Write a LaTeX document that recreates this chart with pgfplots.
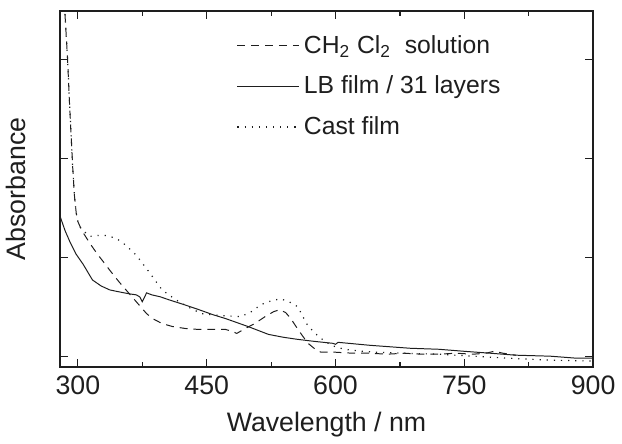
\documentclass[border=0pt]{standalone}
\usepackage{fontspec}
\setmainfont{Liberation Sans}
\usepackage{pgfplots}
\pgfplotsset{compat=1.18}
\definecolor{ink}{RGB}{30,30,30}

\begin{document}
\begin{tikzpicture}
\begin{axis}[
  scale only axis,
  width=269.5pt, height=180pt,
  xmin=279, xmax=900,
  ymin=-0.11, ymax=3.49,
  xtick={300,450,600,750,900},
  minor xtick={375,525,675,825},
  ytick={0,1,2,3},
  yticklabels={},
  tick align=inside,
  major tick length=4pt,
  minor tick length=2.5pt,
  axis line style={ink, line width=0.8pt},
  every tick/.style={ink, line width=0.6pt},
  /pgf/number format/assume math mode=true,
  ticklabel style={font=\fontsize{13.5}{16}\selectfont, text=ink},
  xticklabel style={yshift=-1pt},
  xlabel={Wavelength / nm},
  ylabel={Absorbance},
  label style={font=\fontsize{13.5}{16}\selectfont, text=ink},
  xlabel style={yshift=-2pt},
  ylabel style={at={(axis description cs:-0.05,0.5)}, anchor=south},
  legend style={draw=none, fill=none, at={(axis description cs:0.32,0.955)}, anchor=north west,
    font=\fontsize{12.5}{15}\selectfont, text=ink, row sep=6pt},
  legend cell align=left,
  legend image code/.code={\draw[#1] (0cm,0cm) -- (1.1cm,0cm);},
  clip=true,
]
% CH2Cl2 solution
\addplot[ink, line width=0.5pt, dash pattern=on 4pt off 3pt] coordinates {
(284,3.6)(286,3.3)(288,3.0)(290,2.6)(292,2.25)(294,1.9)(296,1.62)(298,1.45)
(300,1.36)(303,1.30)(306,1.25)(314,1.14)(322,1.04)(330,0.95)(337,0.87)(348,0.75)
(360,0.63)(368,0.55)(374,0.49)(380,0.43)(387,0.38)(398,0.33)(410,0.30)(425,0.28)
(441,0.27)(457,0.27)(472,0.27)(480,0.25)(485,0.23)(495,0.28)(506,0.33)(518,0.40)
(528,0.45)(535,0.47)(542,0.44)(548,0.38)(554,0.30)(562,0.20)(568,0.13)(575,0.08)
(583,0.04)(600,0.04)(620,0.03)(640,0.03)(660,0.02)(680,0.03)(700,0.02)(720,0.02)
(740,0.03)(760,0.02)(775,0.03)(785,0.05)(795,0.03)(810,0.01)
};
\addlegendentry{CH\textsubscript{2} Cl\textsubscript{2}\ \ solution}

% LB film
\addplot[ink, line width=0.5pt] coordinates {
(279,1.42)(285,1.27)(291,1.15)(298,1.03)(306,0.93)(317,0.77)(327,0.71)(337,0.67)
(348,0.65)(360,0.63)(368,0.62)(372,0.60)(375,0.55)(380,0.64)(386,0.62)(396,0.60)
(406,0.57)(424,0.52)(441,0.47)(457,0.42)(472,0.38)(485,0.34)(498,0.30)(510,0.26)
(522,0.22)(540,0.19)(556,0.17)(575,0.15)(597,0.13)(600,0.12)(603,0.14)(640,0.11)
(687,0.08)(720,0.07)(749,0.05)(780,0.03)(810,0.01)(850,0.0)(880,-0.02)(900,-0.02)
};
\addlegendentry{LB film / 31 layers}

% Cast film
\addplot[ink, line width=0.6pt, dash pattern=on 0.6pt off 3pt] coordinates {
(284,3.6)(286,3.3)(288,3.0)(290,2.6)(292,2.25)(294,1.9)(296,1.62)(298,1.45)
(300,1.36)(303,1.30)(306,1.27)(314,1.21)(323,1.22)(333,1.22)(345,1.19)(356,1.12)
(368,1.02)(383,0.85)(398,0.67)(414,0.57)(430,0.49)(444,0.43)(467,0.41)(490,0.40)
(502,0.45)(513,0.52)(525,0.56)(536,0.58)(546,0.55)(556,0.50)(562,0.40)(567,0.32)
(575,0.24)(583,0.18)(595,0.11)(610,0.07)(630,0.05)(648,0.04)(680,0.03)(720,0.02)
(760,0.0)(800,-0.02)(850,-0.04)(900,-0.05)
};
\addlegendentry{Cast film}
\end{axis}
\path ([yshift=5.5pt]current axis.north);
\end{tikzpicture}
\end{document}
